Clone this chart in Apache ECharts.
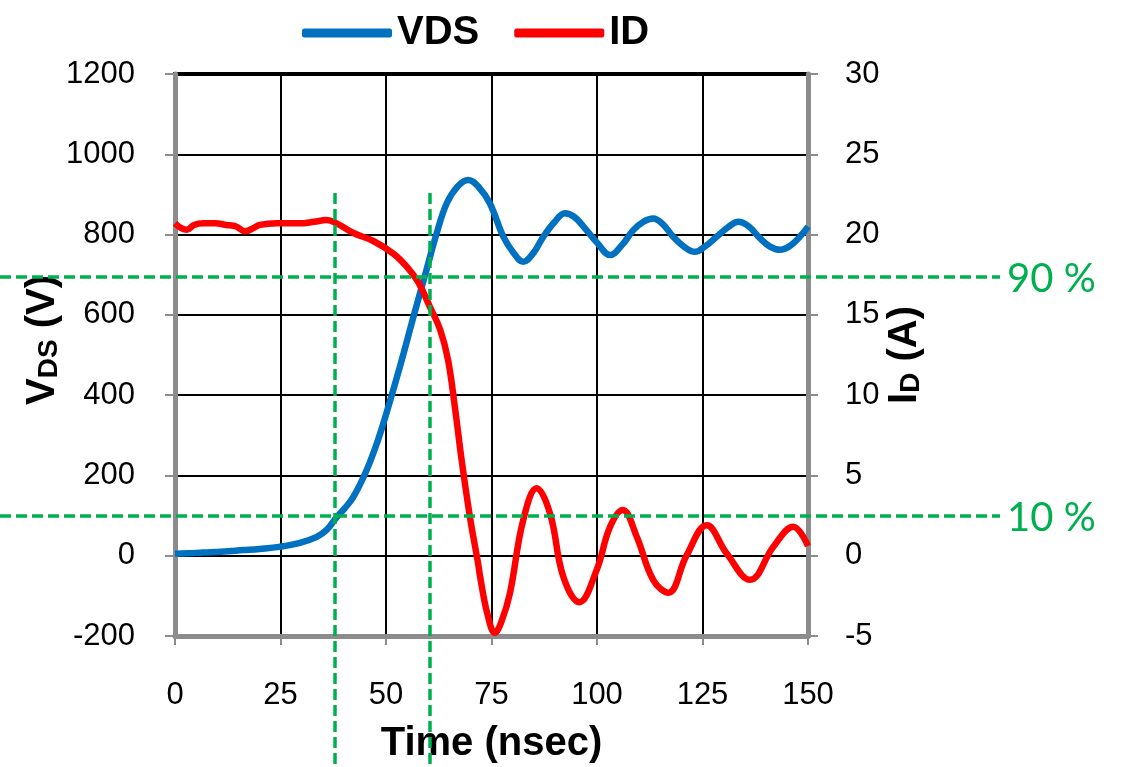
<!DOCTYPE html>
<html>
<head>
<meta charset="utf-8">
<script src="https://cdn.jsdelivr.net/npm/echarts@6/dist/echarts.min.js"></script>
<style>
html,body{margin:0;padding:0;background:#fff;}
#chart{width:1132px;height:767px;}
</style>
</head>
<body>
<div id="chart"></div>
<script>
// ---- data ----
var vdsTime = [0, 3, 6.7, 11, 16.2, 20, 24.7, 29.6, 33.6, 36, 38.1, 40.2, 42.3, 45.4, 48, 50.1, 53.3, 56.5, 59.6, 62, 64.4, 67, 69.5, 72, 74.6, 77.8, 80.2, 82.5, 85, 87.3, 90, 92.4, 94.5, 96.8, 100, 103.1, 106, 108.6, 111, 113.3, 115.7, 118, 120.6, 123.2, 125.8, 128.4, 131, 133.5, 136, 138.6, 141, 143.4, 145.8, 148.1, 150];
var vdsValues = [5, 6, 8, 10, 14, 17, 22, 32, 47, 65, 93, 118, 147, 213, 285, 355, 471, 595, 712, 803, 878, 920, 936, 918, 878, 795, 755, 732, 755, 795, 832, 853, 845, 820, 780, 749, 775, 811, 832, 840, 825, 795, 770, 757, 772, 795, 818, 832, 820, 791, 770, 762, 772, 795, 820];

var idTime = [0, 1.5, 2.8, 4.5, 6.7, 9.5, 12.2, 14.5, 16.6, 18.5, 20.1, 24.1, 29.6, 33, 35.9, 38.3, 42.3, 47, 51.8, 54.9, 57.7, 60.4, 62.8, 64.7, 66.4, 67.9, 69.9, 71.9, 72.3, 74, 75.8, 77.5, 79.4, 82.5, 85.7, 88.9, 92, 95.8, 99.9, 103.1, 106.1, 109.4, 113.3, 116.9, 121.2, 126, 130.7, 136.3, 141.8, 146.5, 150];
var idValues = [20.7, 20.4, 20.3, 20.6, 20.7, 20.7, 20.6, 20.5, 20.2, 20.4, 20.6, 20.7, 20.7, 20.8, 20.9, 20.7, 20.1, 19.6, 18.8, 18.0, 17.0, 15.5, 14.1, 12.2, 9.1, 6.0, 2.4, -0.6, -1.3, -3.6, -4.8, -4.0, -2.3, 2.2, 4.2, 2.6, -1.3, -2.9, -0.9, 1.8, 2.85, 1.2, -1.5, -2.3, 0.0, 1.9, 0.15, -1.5, 0.56, 1.8, 0.6];

var xTicks = [0, 25, 50, 75, 100, 125, 150];
var seriesNames = ['VDS', 'ID'];

// annotation levels (percent thresholds on VDS, and crossing times)
var levelValues = [694, 99];
var levelLabels = ['90 %', '10 %'];
var markTimes = [38, 60.4];

function pairs(xs, ys) { return xs.map(function (x, i) { return [x, ys[i]]; }); }

var chart = echarts.init(document.getElementById('chart'), null, {renderer: 'canvas'});
var FONT = '"Liberation Sans", Arial, sans-serif';
var GRAY = '#8c8c8c';
var GREEN = '#00B050';
var plain = function (v) { return String(v); };

var option = {
  animation: false,
  backgroundColor: '#ffffff',
  legend: {
    left: 297, top: 8,
    itemWidth: 90, itemHeight: 9, itemGap: 35,
    icon: 'roundRect',
    data: seriesNames,
    textStyle: {fontFamily: FONT, fontSize: 40, fontWeight: 'bold', color: '#000'}
  },
  grid: {
    left: 175, right: 324, top: 74, bottom: 131,
    outerBoundsMode: 'none', containLabel: false,
    show: true, borderColor: '#000', borderWidth: 4, backgroundColor: '#fff'
  },
  xAxis: {
    type: 'value', min: 0, max: 150, interval: 25,
    name: 'Time (nsec)', nameLocation: 'middle', nameGap: 88, nameMoveOverlap: false,
    nameTextStyle: {fontFamily: FONT, fontSize: 40, fontWeight: 'bold', color: '#000'},
    axisLine: {show: true, onZero: false, lineStyle: {color: GRAY, width: 5}},
    axisTick: {show: true, inside: false, length: 9, lineStyle: {color: GRAY, width: 2}},
    axisLabel: {margin: 44, fontFamily: FONT, fontSize: 31, color: '#000',
      formatter: function (v) { return xTicks.indexOf(v) >= 0 ? String(v) : ''; }},
    splitLine: {show: true, lineStyle: {color: '#000', width: 2}}
  },
  yAxis: [{
    type: 'value', min: -200, max: 1200, interval: 200, position: 'left',
    name: '{m|V}{s|DS}{m| (V)}', nameLocation: 'middle', nameGap: 112, nameRotate: 90, nameMoveOverlap: false,
    nameTextStyle: {
      padding: [0, 0, 0, 30],
      rich: {
        m: {fontFamily: FONT, fontSize: 40, fontWeight: 'bold', color: '#000', lineHeight: 40, verticalAlign: 'top'},
        s: {fontFamily: FONT, fontSize: 28, fontWeight: 'bold', color: '#000', lineHeight: 28, padding: [22, 0, 0, 0], verticalAlign: 'bottom'}
      }
    },
    axisLine: {show: true, onZero: false, lineStyle: {color: GRAY, width: 5}},
    axisTick: {show: true, inside: false, length: 10, lineStyle: {color: GRAY, width: 2}},
    axisLabel: {margin: 40, fontFamily: FONT, fontSize: 31, color: '#000', formatter: plain},
    splitLine: {show: true, lineStyle: {color: '#000', width: 2}}
  }, {
    type: 'value', min: -5, max: 30, interval: 5, position: 'right',
    name: '{m|I}{s|D}{m| (A)}', nameLocation: 'middle', nameGap: 77, nameRotate: 90, nameMoveOverlap: false,
    nameTextStyle: {
      padding: [0, 0, 0, 0],
      rich: {
        m: {fontFamily: FONT, fontSize: 40, fontWeight: 'bold', color: '#000', lineHeight: 40, verticalAlign: 'top'},
        s: {fontFamily: FONT, fontSize: 28, fontWeight: 'bold', color: '#000', lineHeight: 28, padding: [22, 0, 0, 0], verticalAlign: 'bottom'}
      }
    },
    axisLine: {show: true, onZero: false, lineStyle: {color: GRAY, width: 5}},
    axisTick: {show: true, inside: false, length: 10, lineStyle: {color: GRAY, width: 2}},
    axisLabel: {margin: 37, fontFamily: FONT, fontSize: 31, color: '#000', formatter: plain},
    splitLine: {show: false}
  }],
  series: [{
    name: seriesNames[0], type: 'line', yAxisIndex: 0,
    data: pairs(vdsTime, vdsValues), smooth: 0.4, showSymbol: false,
    lineStyle: {color: '#0070C0', width: 6.5}, itemStyle: {color: '#0070C0'}, z: 3
  }, {
    name: seriesNames[1], type: 'line', yAxisIndex: 1,
    data: pairs(idTime, idValues), smooth: 0.4, showSymbol: false,
    lineStyle: {color: '#FF0000', width: 6.5}, itemStyle: {color: '#FF0000'}, z: 4
  }]
};
chart.setOption(option);

// annotation guide lines, positioned through the chart's own scales
var elems = [];
levelValues.forEach(function (v, i) {
  var y = Math.round(chart.convertToPixel({yAxisIndex: 0}, v));
  elems.push({
    type: 'line', z: 100, silent: true,
    shape: {x1: 0, y1: y, x2: 1000, y2: y},
    style: {stroke: GREEN, lineWidth: 3.5, lineDash: [11, 5]}
  });
  elems.push({
    type: 'text', z: 100, silent: true, x: 1007, y: y + 2,
    style: {text: levelLabels[i], fill: GREEN, font: '40px Lato, "Noto Sans", sans-serif', textVerticalAlign: 'middle', textAlign: 'left'}
  });
});
markTimes.forEach(function (t) {
  var x = Math.round(chart.convertToPixel({xAxisIndex: 0}, t));
  elems.push({
    type: 'line', z: 100, silent: true,
    shape: {x1: x, y1: 193, x2: x, y2: 767},
    style: {stroke: GREEN, lineWidth: 3.5, lineDash: [11, 5]}
  });
});
chart.setOption({graphic: elems});
</script>
</body>
</html>
